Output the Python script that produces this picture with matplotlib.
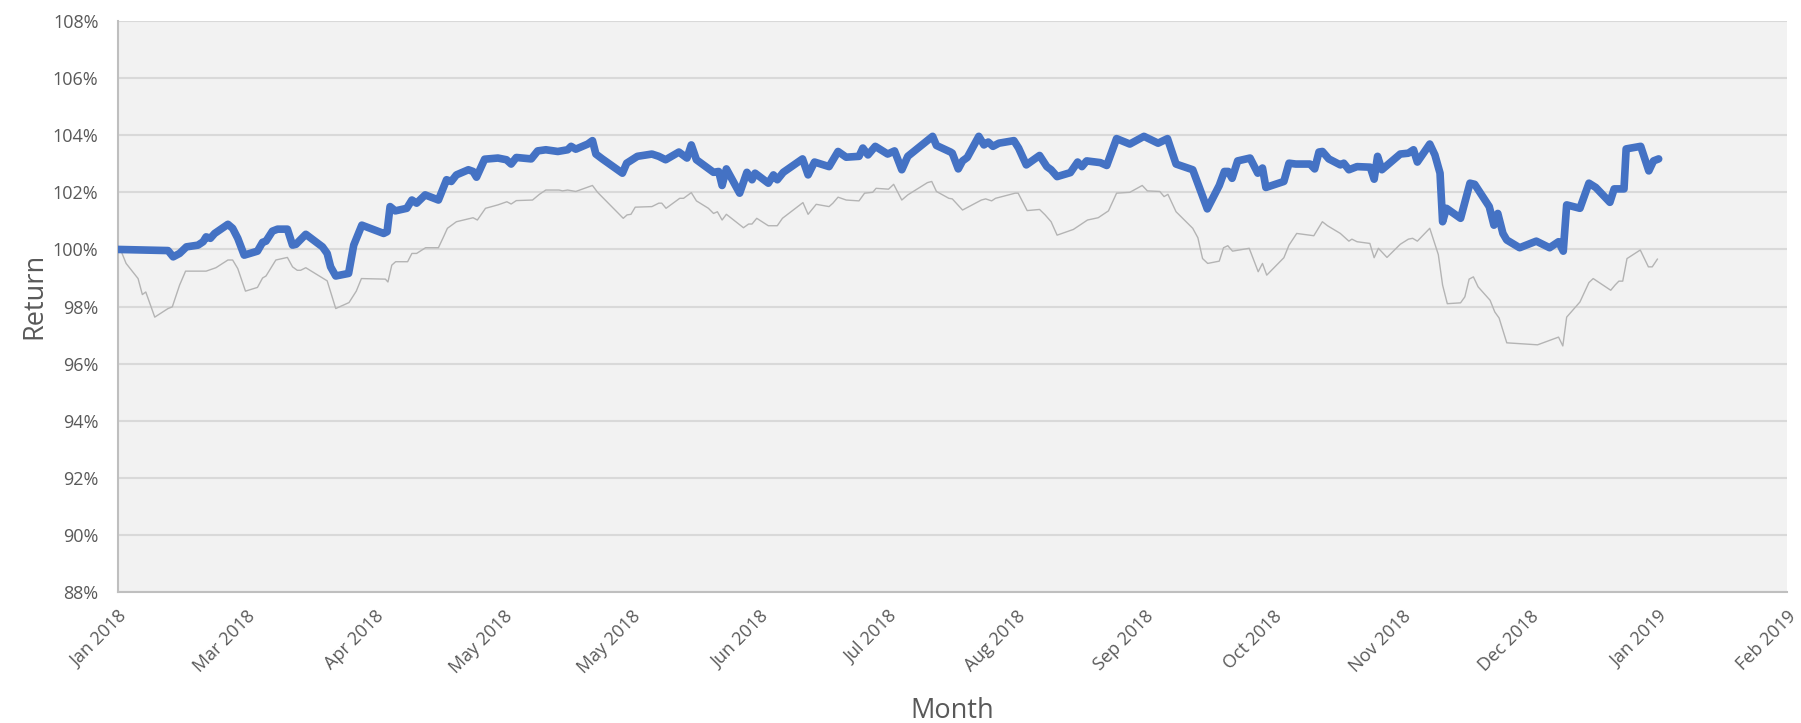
import numpy as np
import pandas as pd
import matplotlib
matplotlib.use('Agg')
import matplotlib.pyplot as plt
import matplotlib.dates as mdates
from matplotlib.ticker import FuncFormatter

plt.rcParams['font.family'] = ['Open Sans', 'DejaVu Sans']

start = pd.Timestamp('2018-01-31')

# portfolio: days since start, cumulative return in %
port_days = [0, 11.7, 12.9, 14.4, 16.0, 18.7, 19.9, 20.6, 21.6, 22.6,
             25.7, 26.8, 28.0, 29.5, 32.6, 33.8, 34.6, 36.1, 37.3, 39.6,
             40.8, 41.6, 43.9, 47.8, 48.9, 49.7, 50.9, 53.9, 55.1, 57.0,
             62.1, 62.9, 63.6, 64.8, 67.5, 68.7, 69.8, 71.8, 74.9, 76.8,
             77.9, 79.1, 81.9, 83.0, 83.8, 85.7, 88.8, 90.8, 91.9, 93.1,
             96.6, 98.1, 100.0, 102.8, 105.1, 105.9, 107.0, 109.8, 110.9, 111.7,
             113.2, 117.9, 118.9, 121.4, 124.8, 126.4, 128.0, 131.1, 133.0, 134.0,
             135.2, 139.2, 140.4, 141.2, 142.2, 145.3, 147.0, 148.2, 148.9, 152.0,
             153.2, 154.1, 155.5, 160.0, 161.3, 162.8, 166.2, 168.3, 170.2, 173.2,
             174.1, 175.3, 177.0, 179.9, 181.5, 183.2, 184.6, 190.4, 191.3, 194.6,
             195.0, 196.4, 197.4, 198.5, 201.2, 202.4, 203.4, 204.5, 205.9, 209.4,
             210.5, 212.3, 215.4, 217.1, 218.1, 219.5, 222.6, 224.3, 225.3, 226.4,
             229.6, 231.1, 233.4, 236.5, 239.8, 243.1, 245.3, 247.3, 251.2, 254.6,
             257.4, 258.6, 259.5, 260.4, 261.7, 264.6, 266.4, 267.5, 268.3, 272.5,
             273.7, 275.3, 278.6, 279.7, 280.7, 281.5, 283.0, 285.7, 286.5, 287.7,
             289.6, 292.7, 293.6, 294.4, 295.4, 299.7, 301.6, 302.8, 303.7, 306.6,
             307.8, 309.0, 309.6, 310.5, 313.8, 316.0, 317.1, 320.5, 321.6, 322.5,
             323.7, 324.6, 327.6, 331.5, 334.6, 336.7, 337.8, 338.6, 341.7, 343.8,
             345.4, 348.7, 349.7, 352.0, 352.5, 355.9, 357.8, 358.9, 360.1]
port_ret = [100.00, 99.96, 99.74, 99.86, 100.09, 100.15, 100.27, 100.44, 100.39, 100.56,
            100.88, 100.74, 100.39, 99.80, 99.94, 100.25, 100.29, 100.64, 100.71, 100.71,
            100.15, 100.18, 100.53, 100.09, 99.86, 99.39, 99.07, 99.16, 100.15, 100.85,
            100.56, 100.62, 101.50, 101.35, 101.44, 101.73, 101.62, 101.91, 101.73, 102.44,
            102.38, 102.61, 102.79, 102.73, 102.53, 103.16, 103.20, 103.14, 102.99, 103.22,
            103.17, 103.45, 103.49, 103.43, 103.49, 103.61, 103.51, 103.69, 103.81, 103.34,
            103.17, 102.67, 103.02, 103.26, 103.34, 103.26, 103.14, 103.41, 103.20, 103.66,
            103.14, 102.70, 102.73, 102.24, 102.82, 101.97, 102.70, 102.44, 102.67, 102.32,
            102.61, 102.44, 102.70, 103.17, 102.61, 103.06, 102.90, 103.43, 103.23, 103.26,
            103.55, 103.31, 103.61, 103.34, 103.45, 102.79, 103.26, 103.96, 103.64, 103.41,
            103.37, 102.82, 103.10, 103.22, 103.96, 103.66, 103.76, 103.61, 103.72, 103.81,
            103.55, 102.96, 103.29, 102.90, 102.79, 102.55, 102.69, 103.06, 102.90, 103.10,
            103.04, 102.94, 103.88, 103.69, 103.96, 103.72, 103.88, 102.99, 102.79, 101.42,
            102.24, 102.73, 102.73, 102.49, 103.10, 103.20, 102.67, 102.85, 102.17, 102.38,
            103.02, 102.99, 102.99, 102.82, 103.41, 103.43, 103.17, 102.96, 103.02, 102.79,
            102.90, 102.88, 102.46, 103.26, 102.79, 103.34, 103.37, 103.49, 103.06, 103.69,
            103.31, 102.67, 100.97, 101.44, 101.09, 102.32, 102.28, 101.50, 100.85, 101.26,
            100.56, 100.33, 100.06, 100.29, 100.06, 100.27, 99.94, 101.56, 101.44, 102.32,
            102.17, 101.65, 102.12, 102.12, 103.52, 103.61, 102.75, 103.10, 103.17]

# benchmark: days since start, cumulative return in %
bench_days = [0, 0.8, 1.9, 4.7, 5.7, 6.5, 8.6, 11.7, 12.7, 14.4,
              15.8, 20.6, 22.9, 25.7, 26.8, 28.0, 29.8, 32.6, 33.8, 34.6,
              36.9, 39.6, 40.8, 41.9, 42.7, 43.9, 48.9, 50.9, 54.0, 55.7,
              56.9, 62.5, 63.1, 64.0, 64.9, 67.7, 68.7, 69.8, 71.9, 74.9,
              76.0, 77.0, 79.1, 83.0, 84.0, 85.9, 88.8, 90.9, 91.9, 93.1,
              96.9, 98.5, 100.0, 103.1, 103.9, 105.1, 107.0, 110.9, 112.1, 118.1,
              119.0, 119.9, 120.9, 124.8, 126.4, 127.1, 128.1, 131.3, 132.2, 134.0,
              135.2, 138.0, 139.2, 140.1, 141.2, 142.2, 146.2, 147.4, 148.2, 149.3,
              152.0, 154.1, 155.3, 160.1, 161.3, 163.2, 166.2, 167.1, 168.3, 170.2,
              173.2, 174.5, 176.4, 177.2, 180.1, 181.3, 183.2, 184.6, 189.2, 190.2,
              191.3, 194.2, 195.0, 197.4, 201.8, 202.8, 204.2, 205.1, 209.7, 210.4,
              212.5, 215.4, 216.7, 218.1, 219.5, 223.3, 226.6, 229.1, 231.5, 233.4,
              236.5, 239.4, 240.6, 243.5, 244.5, 245.4, 247.3, 251.2, 252.4, 253.5,
              254.7, 257.4, 258.4, 259.4, 260.5, 264.4, 266.5, 267.5, 268.5, 272.5,
              273.7, 275.5, 279.5, 281.5, 282.7, 285.7, 287.7, 288.4, 289.6, 292.6,
              293.6, 294.6, 296.6, 299.7, 301.6, 302.6, 303.7, 306.6, 308.6, 309.6,
              310.7, 313.8, 314.8, 315.8, 316.8, 317.9, 320.7, 321.8, 322.8, 324.6,
              331.8, 336.7, 337.7, 338.6, 341.7, 343.8, 344.8, 348.9, 349.9, 350.8,
              351.7, 352.7, 355.8, 357.7, 358.6, 359.8]
bench_ret = [100.00, 99.92, 99.51, 98.98, 98.42, 98.51, 97.63, 97.93, 97.99, 98.75,
             99.24, 99.24, 99.36, 99.63, 99.63, 99.33, 98.54, 98.67, 99.00, 99.07,
             99.63, 99.72, 99.39, 99.27, 99.27, 99.36, 98.90, 97.93, 98.14, 98.54,
             98.98, 98.96, 98.86, 99.45, 99.57, 99.57, 99.86, 99.86, 100.06, 100.06,
             100.41, 100.74, 100.97, 101.11, 101.03, 101.44, 101.56, 101.67, 101.59, 101.71,
             101.73, 101.93, 102.08, 102.08, 102.05, 102.08, 102.03, 102.24, 102.00, 101.09,
             101.21, 101.23, 101.48, 101.50, 101.62, 101.62, 101.44, 101.79, 101.79, 101.99,
             101.70, 101.44, 101.26, 101.32, 101.03, 101.23, 100.76, 100.89, 100.89, 101.09,
             100.83, 100.83, 101.09, 101.64, 101.23, 101.58, 101.50, 101.62, 101.83, 101.73,
             101.70, 101.97, 102.00, 102.14, 102.11, 102.28, 101.73, 101.91, 102.34, 102.38,
             102.03, 101.79, 101.77, 101.38, 101.73, 101.77, 101.70, 101.79, 101.97, 101.97,
             101.36, 101.40, 101.21, 100.97, 100.50, 100.70, 101.03, 101.11, 101.35, 101.97,
             102.00, 102.24, 102.05, 102.03, 101.85, 101.93, 101.32, 100.74, 100.41, 99.68,
             99.51, 99.59, 100.06, 100.13, 99.94, 100.04, 99.22, 99.51, 99.10, 99.71,
             100.15, 100.56, 100.48, 100.97, 100.83, 100.56, 100.29, 100.36, 100.27, 100.21,
             99.71, 100.04, 99.72, 100.18, 100.36, 100.39, 100.29, 100.74, 99.82, 98.75,
             98.10, 98.13, 98.34, 98.96, 99.04, 98.69, 98.22, 97.81, 97.60, 96.73,
             96.66, 96.93, 96.62, 97.63, 98.16, 98.84, 98.98, 98.57, 98.75, 98.89,
             98.89, 99.68, 99.98, 99.39, 99.39, 99.66]


def to_dates(days):
    return start + pd.to_timedelta(np.array(days), unit='D')


fig = plt.figure(figsize=(18.01, 7.23), dpi=100)
ax = fig.add_axes([0.0655, 0.181, 0.9265, 0.790])
ax.set_facecolor('#F2F2F2')

ax.plot(to_dates(bench_days), bench_ret, color='#B4B4B4', linewidth=1.0, zorder=2)
ax.plot(to_dates(port_days), port_ret, color='#4472C4', linewidth=5.5,
        solid_joinstyle='round', solid_capstyle='round', zorder=3)

ax.set_ylim(88, 108)
ax.set_yticks(np.arange(88, 109, 2))
ax.yaxis.set_major_formatter(FuncFormatter(lambda v, p: '{:.0f}%'.format(v)))
ax.grid(axis='y', color='#D9D9D9', linewidth=1.5, zorder=1)

ticks = pd.date_range(start, periods=14, freq='30D')
ax.set_xlim(ticks[0], ticks[-1])
ax.set_xticks(ticks)
ax.xaxis.set_major_formatter(mdates.DateFormatter('%b %Y'))
plt.setp(ax.get_xticklabels(), rotation=45, ha='right', va='top', rotation_mode='anchor')

ax.tick_params(axis='both', length=0, labelsize=13, labelcolor='#595959')
ax.tick_params(axis='y', pad=14)
ax.tick_params(axis='x', pad=11)

for side in ['top', 'right']:
    ax.spines[side].set_visible(False)
for side in ['left', 'bottom']:
    ax.spines[side].set_color('#BFBFBF')
    ax.spines[side].set_linewidth(1.5)

fig.text(0.019, 0.591, 'Return', rotation=90, ha='center', va='center',
         fontsize=19.5, color='#595959')
fig.text(0.529, 0.017, 'Month', ha='center', va='center', fontsize=19.5, color='#595959')

fig.savefig('out.png', dpi=100)
